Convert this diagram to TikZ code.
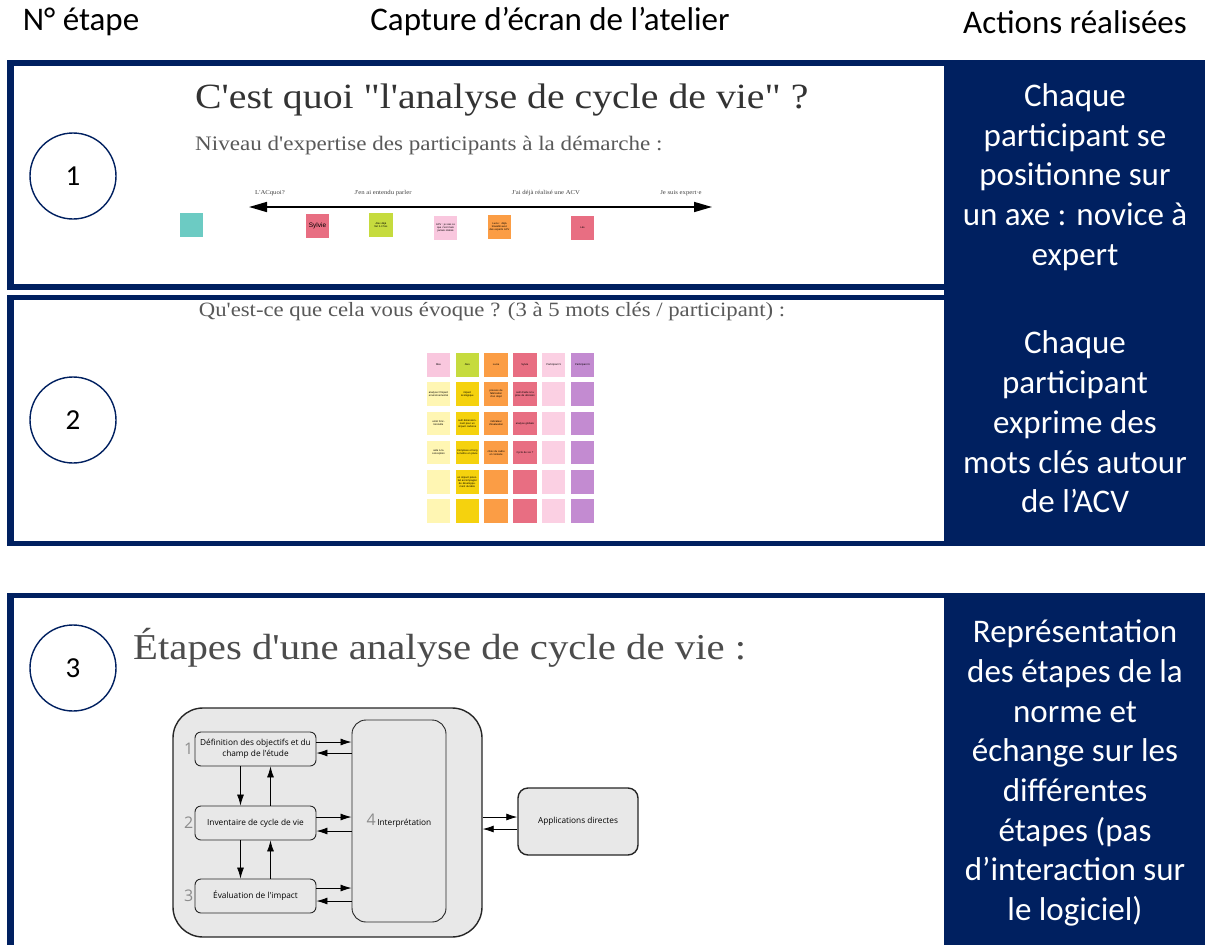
\documentclass[tikz,border=0pt]{standalone}
\usepackage{fontspec}
\setmainfont{Carlito}
\newfontfamily\slab[FakeStretch=1.12]{Liberation Serif}
\newfontfamily\osans{Open Sans}
\newfontfamily\lsans{Liberation Sans}
\usetikzlibrary{arrows.meta,calc}
\definecolor{navy}{HTML}{002060}
\definecolor{diag}{HTML}{E8E8E8}
\definecolor{teal}{HTML}{6CCBC3}
\definecolor{pinkL}{HTML}{F9C7DE}
\definecolor{yelL}{HTML}{FFF6B3}
\definecolor{lime}{HTML}{C6DB3E}
\definecolor{gold}{HTML}{F5D20E}
\definecolor{orng}{HTML}{FB9D45}
\definecolor{redp}{HTML}{E86E82}
\definecolor{pinkM}{HTML}{FBD0E3}
\definecolor{purp}{HTML}{C38BD1}
\tikzset{
  hdr/.style={font=\fontsize{33}{38}\selectfont, text=black, inner sep=0pt},
  act/.style={font=\fontsize{33}{39.7}\selectfont, text=white, align=center, inner sep=0pt},
  stepc/.style={circle, draw=navy, line width=1.4pt, minimum size=86pt, inner sep=0pt, font=\fontsize{29}{32}\selectfont},
  ttl/.style={font=\slab, text=black!80, inner sep=0pt},
  axlab/.style={font=\slab\fontsize{6}{7}\selectfont, text=black!75, inner sep=0pt},
  note/.style={minimum width=23.5pt, minimum height=24pt, inner sep=0.4pt, align=center, text width=21pt, font=\lsans\fontsize{2.6}{3}\selectfont},
  cell/.style={minimum width=23.5pt, minimum height=23.5pt, inner sep=0pt},
  gtxt/.style={align=center, text width=21pt, inner sep=0pt, font=\lsans\fontsize{2.6}{3}\selectfont},
  dbox/.style={draw=black!85, line width=0.9pt, fill=diag, rounded corners=6pt, align=center, font=\osans\fontsize{8.3}{11}\selectfont},
  numst/.style={font=\osans\fontsize{16}{18}\selectfont, text=black!45, inner sep=1pt},
  arr/.style={-{Latex[length=11pt,width=7pt]}, line width=0.8pt},
}
\begin{document}
\begin{tikzpicture}[x=1pt,y=-1pt]
\useasboundingbox (0,0) rectangle (1205,945);
\fill[white] (0,0) rectangle (1205,945);
% headers
\node[hdr] (h1) at (81,22) {N° étape};
\node[hdr] (h2) at (550,22) {Capture d’écran de l’atelier};
\node[hdr] (h3) at (1075,22) {Actions réalisées};
% frames
\fill[navy] (7,60) rectangle (1205,290);
\fill[navy] (7,295) rectangle (1205,546);
\fill[navy] (944,60) rectangle (1205,546);
\fill[white] (14,66) rectangle (944,284);
\fill[white] (14,300) rectangle (944,541);
\fill[navy] (7,593) rectangle (1205,945);
\fill[white] (14,598) rectangle (944,945);
% step circles
\node[stepc] (s1) at (73,176) {1};
\node[stepc] (s2) at (73,420) {2};
\node[stepc] (s3) at (73,668) {3};
% actions
\node[act] (a1) at (1075,177) {Chaque\\participant se\\positionne sur\\un axe : novice à\\expert};
\node[act] (a2) at (1075,422) {Chaque\\participant\\exprime des\\mots clés autour\\de l’ACV};
\node[act] (a3) at (1075,773) {Représentation\\des étapes de la\\norme et\\échange sur les\\différentes\\étapes (pas\\d’interaction sur\\le logiciel)};
% row 1 screenshot
\node[ttl, font=\slab\fontsize{35.5}{40}\selectfont, anchor=west] (t1) at (195,100) {C'est quoi "l'analyse de cycle de vie" ?};
\node[ttl, text=black!65, font=\slab\fontsize{20.6}{23}\selectfont, anchor=west] (st1) at (195,146) {Niveau d'expertise des participants à la démarche :};
\coordinate (axL) at (249,207);
\coordinate (axR) at (712,207);
\draw[line width=1.6pt, {Triangle[length=18pt,width=10pt]}-{Triangle[length=18pt,width=10pt]}] (axL) -- (axR);
\node[axlab] (l1) at (270,193) {L'ACquoi?};
\node[axlab] (l2) at (383,193) {J'en ai entendu parler};
\node[axlab] (l3) at (546,193) {J'ai déjà réalisé une ACV};
\node[axlab] (l4) at (681,193) {Je suis expert·e};
\node[note, fill=teal] (n0) at (191.5,224.5) {};
\node[note, fill=redp, font=\lsans\fontsize{6.5}{7}\selectfont] (n1) at (317.5,225.5) {Sylvie};
\node[note, fill=lime] (n2) at (381,225) {Alex déjà fait 2-3 fois};
\node[note, fill=pinkL] (n3) at (445.5,228) {ACV : je sais ce que c'est mais jamais réalisé};
\node[note, fill=orng] (n4) at (499.5,227) {Lucie : déjà travaillé avec des experts ACV};
\node[note, fill=redp] (n5) at (582.5,228) {Léo};
% row 2 screenshot
\node[ttl, text=black!65, font=\slab\fontsize{20.3}{23}\selectfont] (t2) at (492,312) {Qu'est-ce que cela vous évoque ? (3 à 5 mots clés / participant) :};
\foreach \c/\hc/\bc in {0/pinkL/yelL,1/lime/gold,2/orng/orng,3/redp/redp,4/pinkM/pinkM,5/purp/purp}{
  \node[cell, fill=\hc] (g-\c-0) at ({438.5+28.8*\c},365) {};
  \foreach \r in {1,...,5}
    \node[cell, fill=\bc] (g-\c-\r) at ({438.5+28.8*\c},{365+29.2*\r}) {};
}
\path (g-0-0) node[gtxt] {Max};
\path (g-1-0) node[gtxt] {Alex};
\path (g-2-0) node[gtxt] {Lucie};
\path (g-3-0) node[gtxt] {Sylvie};
\path (g-4-0) node[gtxt] {Participant 5};
\path (g-5-0) node[gtxt] {Participant 6};
\path (g-0-1) node[gtxt] {analyser l'impact environnemental};
\path (g-0-2) node[gtxt] {unité fonctionnelle};
\path (g-0-3) node[gtxt] {aide à la conception};
\path (g-1-1) node[gtxt] {impact écologique};
\path (g-1-2) node[gtxt] {outil dimensionnant pour un impact carbone};
\path (g-1-3) node[gtxt] {Complexe et long à mettre en place};
\path (g-1-4) node[gtxt] {un impact potentiel accompagné de développement durable};
\path (g-2-1) node[gtxt] {process de fabrication d'un objet};
\path (g-2-2) node[gtxt] {indicateur d'évaluation};
\path (g-2-3) node[gtxt] {choix du cadre et contexte};
\path (g-3-1) node[gtxt] {outil d'aide à la prise de décision};
\path (g-3-2) node[gtxt] {analyse globale};
\path (g-3-3) node[gtxt] {Cycle de vie ?};
% row 3 screenshot
\node[ttl, text=black!70, font=\slab\fontsize{36.4}{40}\selectfont, anchor=west] (t3) at (133,648) {Étapes d'une analyse de cycle de vie :};
\node[draw=black!85, line width=1.4pt, rounded corners=30pt, fill=diag, minimum width=309pt, minimum height=229pt] (outer) at (327.5,822.5) {};
\node[dbox, minimum width=121pt, minimum height=34pt, label={[numst]left:1}] (b1) at (255.5,749) {Définition des objectifs et du\\champ de l'étude};
\node[dbox, minimum width=121pt, minimum height=34pt, label={[numst]left:2}] (b2) at (255.5,823) {Inventaire de cycle de vie};
\node[dbox, minimum width=121pt, minimum height=34pt, label={[numst]left:3}] (b3) at (255.5,896) {Évaluation de l'impact};
\node[dbox, rounded corners=14pt, minimum width=94pt, minimum height=202pt] (it) at (399,821) {{\color{black!45}\fontsize{16}{18}\selectfont 4}\,Interprétation};
\node[dbox, line width=1.4pt, rounded corners=10pt, minimum width=120pt, minimum height=67pt] (apps) at (578,821.5) {Applications directes};
% arrows boxes <-> interpretation
\draw[arr] ($(b1.east)+(0,-7)$) -- ($(b1.east -| it.west)+(0,-7)$);
\draw[arr] ($(b1.east -| it.west)+(0,4)$) -- ($(b1.east)+(0,4)$);
\draw[arr] ($(b2.east)+(0,-6)$) -- ($(b2.east -| it.west)+(0,-6)$);
\draw[arr] ($(b2.east -| it.west)+(0,8)$) -- ($(b2.east)+(0,8)$);
\draw[arr] ($(b3.east)+(0,-8)$) -- ($(b3.east -| it.west)+(0,-8)$);
\draw[arr] ($(b3.east -| it.west)+(0,5)$) -- ($(b3.east)+(0,5)$);
% vertical arrows
\draw[arr] ($(b1.south)+(-15,0)$) -- ($(b2.north)+(-15,0)$);
\draw[arr] ($(b2.north)+(15,0)$) -- ($(b1.south)+(15,0)$);
\draw[arr] ($(b2.south)+(-15,0)$) -- ($(b3.north)+(-15,0)$);
\draw[arr] ($(b3.north)+(15,0)$) -- ($(b2.south)+(15,0)$);
% outer <-> applications
\draw[arr] ($(outer.east)+(0,-5.5)$) -- ($(outer.east -| apps.west)+(0,-5.5)$);
\draw[arr] ($(outer.east -| apps.west)+(0,6.5)$) -- ($(outer.east)+(0,6.5)$);
\end{tikzpicture}
\end{document}
